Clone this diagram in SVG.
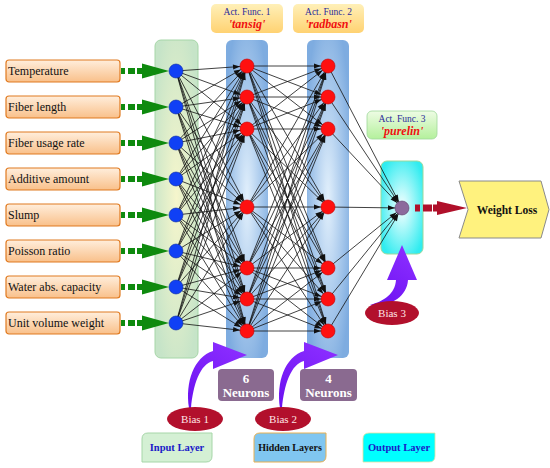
<svg xmlns="http://www.w3.org/2000/svg" width="550" height="468" viewBox="0 0 550 468" font-family="'Liberation Serif', 'Times New Roman', serif">
<style>
text{font-family:"Liberation Serif","Times New Roman",serif}
.inbox{fill:url(#gIn);stroke:#E07A20;stroke-width:1.2}
.intx{font-size:12px;fill:#111}
.net line{stroke:#111;stroke-width:0.8;marker-end:url(#ah)}
.nb{fill:#1040F5;stroke:#0A2AA0;stroke-width:0.6}
.nr{fill:#FF1010;stroke:#C00000;stroke-width:0.6}
.gar{fill:#0E8A0E}
.bias{fill:#B2102C}
.btx{font-size:11px;fill:#FFE6E6}
.parr{fill:url(#gP)}
.neur{fill:#8A6A90}
.ntx{font-size:13px;font-weight:bold;fill:#fff}
.af{fill:url(#gAF)}
.aft{font-size:9.5px;fill:#2A2A9A}
.afn{font-size:12px;font-weight:bold;font-style:italic;fill:#F01010}
</style>
<defs>
<linearGradient id="gIn" x1="0" y1="0" x2="0" y2="1"><stop offset="0" stop-color="#FFEEDC"/><stop offset="1" stop-color="#F9C08A"/></linearGradient>
<radialGradient id="gL0" cx="0.5" cy="0.5" r="0.6"><stop offset="0" stop-color="#F6F6CC"/><stop offset="1" stop-color="#C6E4C8"/></radialGradient>
<radialGradient id="gL1" cx="0.5" cy="0.5" r="0.6"><stop offset="0" stop-color="#E2F0FC"/><stop offset="1" stop-color="#7EACE0"/></radialGradient>
<radialGradient id="gL3" cx="0.5" cy="0.5" r="0.6"><stop offset="0" stop-color="#F8FFFF"/><stop offset="1" stop-color="#30ECF0"/></radialGradient>
<linearGradient id="gAF" x1="0" y1="0" x2="0" y2="1"><stop offset="0" stop-color="#FFF0B8"/><stop offset="1" stop-color="#FFD272"/></linearGradient>
<linearGradient id="gAF3" x1="0" y1="0" x2="0" y2="1"><stop offset="0" stop-color="#EEFCE4"/><stop offset="1" stop-color="#B4F09C"/></linearGradient>
<linearGradient id="gP" x1="0" y1="1" x2="0.6" y2="0"><stop offset="0" stop-color="#6A10F0"/><stop offset="1" stop-color="#8A2CFF"/></linearGradient>
<marker id="ah" markerUnits="userSpaceOnUse" markerWidth="8" markerHeight="6" refX="14" refY="2.5" orient="auto" overflow="visible"><path d="M0,0 L7,2.5 L0,5 z" fill="#111"/></marker>
</defs>

<!-- layer backgrounds -->
<g id="layer-input"><rect x="155" y="40" width="43" height="318" rx="6" fill="url(#gL0)" stroke="#A6D6A8" stroke-width="1"/></g>
<g id="layer-hidden1"><rect x="226" y="40" width="42" height="318" rx="6" fill="url(#gL1)"/></g>
<g id="layer-hidden2"><rect x="307" y="40" width="42" height="318" rx="6" fill="url(#gL1)"/></g>
<g id="layer-output"><rect x="381" y="161" width="42" height="93" rx="6" fill="url(#gL3)" stroke="#9ED89A" stroke-width="1"/></g>

<!-- activation function labels -->
<g id="act1"><rect x="211" y="4" width="72" height="29" rx="5" class="af"/><text x="247" y="15" text-anchor="middle" class="aft">Act. Func. 1</text><text x="247" y="28" text-anchor="middle" class="afn">'tansig'</text></g>
<g id="act2"><rect x="293" y="4" width="71" height="29" rx="5" class="af"/><text x="328.5" y="15" text-anchor="middle" class="aft">Act. Func. 2</text><text x="328.5" y="28" text-anchor="middle" class="afn">'radbasn'</text></g>
<g id="act3"><rect x="367" y="111" width="70" height="28" rx="5" fill="url(#gAF3)" stroke="#9ED89A" stroke-width="0.8"/><text x="402" y="122" text-anchor="middle" class="aft">Act. Func. 3</text><text x="402" y="135" text-anchor="middle" class="afn">'purelin'</text></g>

<!-- input boxes -->
<g id="in1"><rect x="6" y="60" width="114" height="22" rx="3" class="inbox"/><text x="8" y="75" class="intx">Temperature</text></g>
<g id="in2"><rect x="6" y="96" width="114" height="22" rx="3" class="inbox"/><text x="8" y="111" class="intx">Fiber length</text></g>
<g id="in3"><rect x="6" y="132" width="114" height="22" rx="3" class="inbox"/><text x="8" y="147" class="intx">Fiber usage rate</text></g>
<g id="in4"><rect x="6" y="168" width="114" height="22" rx="3" class="inbox"/><text x="8" y="183" class="intx">Additive amount</text></g>
<g id="in5"><rect x="6" y="204" width="114" height="22" rx="3" class="inbox"/><text x="8" y="219" class="intx">Slump</text></g>
<g id="in6"><rect x="6" y="240" width="114" height="22" rx="3" class="inbox"/><text x="8" y="255" class="intx">Poisson ratio</text></g>
<g id="in7"><rect x="6" y="276" width="114" height="22" rx="3" class="inbox"/><text x="8" y="291" class="intx">Water abs. capacity</text></g>
<g id="in8"><rect x="6" y="312" width="114" height="22" rx="3" class="inbox"/><text x="8" y="327" class="intx">Unit volume weight</text></g>

<!-- connectors -->
<g id="connectors">
<g class="net">
<line x1="176" y1="71" x2="247" y2="66"/><line x1="176" y1="71" x2="247" y2="97"/><line x1="176" y1="71" x2="247" y2="129"/><line x1="176" y1="71" x2="247" y2="207"/><line x1="176" y1="71" x2="247" y2="268"/><line x1="176" y1="71" x2="247" y2="299"/><line x1="176" y1="71" x2="247" y2="331"/>
<line x1="176" y1="107" x2="247" y2="66"/><line x1="176" y1="107" x2="247" y2="97"/><line x1="176" y1="107" x2="247" y2="129"/><line x1="176" y1="107" x2="247" y2="207"/><line x1="176" y1="107" x2="247" y2="268"/><line x1="176" y1="107" x2="247" y2="299"/><line x1="176" y1="107" x2="247" y2="331"/>
<line x1="176" y1="143" x2="247" y2="66"/><line x1="176" y1="143" x2="247" y2="97"/><line x1="176" y1="143" x2="247" y2="129"/><line x1="176" y1="143" x2="247" y2="207"/><line x1="176" y1="143" x2="247" y2="268"/><line x1="176" y1="143" x2="247" y2="299"/><line x1="176" y1="143" x2="247" y2="331"/>
<line x1="176" y1="179" x2="247" y2="66"/><line x1="176" y1="179" x2="247" y2="97"/><line x1="176" y1="179" x2="247" y2="129"/><line x1="176" y1="179" x2="247" y2="207"/><line x1="176" y1="179" x2="247" y2="268"/><line x1="176" y1="179" x2="247" y2="299"/><line x1="176" y1="179" x2="247" y2="331"/>
<line x1="176" y1="215" x2="247" y2="66"/><line x1="176" y1="215" x2="247" y2="97"/><line x1="176" y1="215" x2="247" y2="129"/><line x1="176" y1="215" x2="247" y2="207"/><line x1="176" y1="215" x2="247" y2="268"/><line x1="176" y1="215" x2="247" y2="299"/><line x1="176" y1="215" x2="247" y2="331"/>
<line x1="176" y1="251" x2="247" y2="66"/><line x1="176" y1="251" x2="247" y2="97"/><line x1="176" y1="251" x2="247" y2="129"/><line x1="176" y1="251" x2="247" y2="207"/><line x1="176" y1="251" x2="247" y2="268"/><line x1="176" y1="251" x2="247" y2="299"/><line x1="176" y1="251" x2="247" y2="331"/>
<line x1="176" y1="287" x2="247" y2="66"/><line x1="176" y1="287" x2="247" y2="97"/><line x1="176" y1="287" x2="247" y2="129"/><line x1="176" y1="287" x2="247" y2="207"/><line x1="176" y1="287" x2="247" y2="268"/><line x1="176" y1="287" x2="247" y2="299"/><line x1="176" y1="287" x2="247" y2="331"/>
<line x1="176" y1="323" x2="247" y2="66"/><line x1="176" y1="323" x2="247" y2="97"/><line x1="176" y1="323" x2="247" y2="129"/><line x1="176" y1="323" x2="247" y2="207"/><line x1="176" y1="323" x2="247" y2="268"/><line x1="176" y1="323" x2="247" y2="299"/><line x1="176" y1="323" x2="247" y2="331"/>

<line x1="247" y1="66" x2="328" y2="66"/><line x1="247" y1="66" x2="328" y2="97"/><line x1="247" y1="66" x2="328" y2="129"/><line x1="247" y1="66" x2="328" y2="207"/><line x1="247" y1="66" x2="328" y2="268"/><line x1="247" y1="66" x2="328" y2="299"/><line x1="247" y1="66" x2="328" y2="331"/>
<line x1="247" y1="97" x2="328" y2="66"/><line x1="247" y1="97" x2="328" y2="97"/><line x1="247" y1="97" x2="328" y2="129"/><line x1="247" y1="97" x2="328" y2="207"/><line x1="247" y1="97" x2="328" y2="268"/><line x1="247" y1="97" x2="328" y2="299"/><line x1="247" y1="97" x2="328" y2="331"/>
<line x1="247" y1="129" x2="328" y2="66"/><line x1="247" y1="129" x2="328" y2="97"/><line x1="247" y1="129" x2="328" y2="129"/><line x1="247" y1="129" x2="328" y2="207"/><line x1="247" y1="129" x2="328" y2="268"/><line x1="247" y1="129" x2="328" y2="299"/><line x1="247" y1="129" x2="328" y2="331"/>
<line x1="247" y1="207" x2="328" y2="66"/><line x1="247" y1="207" x2="328" y2="97"/><line x1="247" y1="207" x2="328" y2="129"/><line x1="247" y1="207" x2="328" y2="207"/><line x1="247" y1="207" x2="328" y2="268"/><line x1="247" y1="207" x2="328" y2="299"/><line x1="247" y1="207" x2="328" y2="331"/>
<line x1="247" y1="268" x2="328" y2="66"/><line x1="247" y1="268" x2="328" y2="97"/><line x1="247" y1="268" x2="328" y2="129"/><line x1="247" y1="268" x2="328" y2="207"/><line x1="247" y1="268" x2="328" y2="268"/><line x1="247" y1="268" x2="328" y2="299"/><line x1="247" y1="268" x2="328" y2="331"/>
<line x1="247" y1="299" x2="328" y2="66"/><line x1="247" y1="299" x2="328" y2="97"/><line x1="247" y1="299" x2="328" y2="129"/><line x1="247" y1="299" x2="328" y2="207"/><line x1="247" y1="299" x2="328" y2="268"/><line x1="247" y1="299" x2="328" y2="299"/><line x1="247" y1="299" x2="328" y2="331"/>
<line x1="247" y1="331" x2="328" y2="66"/><line x1="247" y1="331" x2="328" y2="97"/><line x1="247" y1="331" x2="328" y2="129"/><line x1="247" y1="331" x2="328" y2="207"/><line x1="247" y1="331" x2="328" y2="268"/><line x1="247" y1="331" x2="328" y2="299"/><line x1="247" y1="331" x2="328" y2="331"/>

<line x1="328" y1="66" x2="402" y2="208"/><line x1="328" y1="97" x2="402" y2="208"/><line x1="328" y1="129" x2="402" y2="208"/><line x1="328" y1="207" x2="402" y2="208"/><line x1="328" y1="268" x2="402" y2="208"/><line x1="328" y1="299" x2="402" y2="208"/><line x1="328" y1="331" x2="402" y2="208"/>
</g>
<!-- green input arrows -->
<g class="gar">
<rect x="121" y="68" width="4" height="6"/><rect x="128" y="68" width="7" height="6"/><polygon points="137,68 142,68 142,63.5 169,71 142,78.5 142,74 137,74"/>
<rect x="121" y="104" width="4" height="6"/><rect x="128" y="104" width="7" height="6"/><polygon points="137,104 142,104 142,99.5 169,107 142,114.5 142,110 137,110"/>
<rect x="121" y="140" width="4" height="6"/><rect x="128" y="140" width="7" height="6"/><polygon points="137,140 142,140 142,135.5 169,143 142,150.5 142,146 137,146"/>
<rect x="121" y="176" width="4" height="6"/><rect x="128" y="176" width="7" height="6"/><polygon points="137,176 142,176 142,171.5 169,179 142,186.5 142,182 137,182"/>
<rect x="121" y="212" width="4" height="6"/><rect x="128" y="212" width="7" height="6"/><polygon points="137,212 142,212 142,207.5 169,215 142,222.5 142,218 137,218"/>
<rect x="121" y="248" width="4" height="6"/><rect x="128" y="248" width="7" height="6"/><polygon points="137,248 142,248 142,243.5 169,251 142,258.5 142,254 137,254"/>
<rect x="121" y="284" width="4" height="6"/><rect x="128" y="284" width="7" height="6"/><polygon points="137,284 142,284 142,279.5 169,287 142,294.5 142,290 137,290"/>
<rect x="121" y="320" width="4" height="6"/><rect x="128" y="320" width="7" height="6"/><polygon points="137,320 142,320 142,315.5 169,323 142,330.5 142,326 137,326"/>
</g>
<!-- output red arrow -->
<g fill="#B0102A">
<rect x="415" y="204.5" width="5" height="7"/><rect x="423" y="204.5" width="9" height="7"/><polygon points="433,204.5 437,204.5 437,201 467,208 437,215 437,211.5 433,211.5"/>
</g>
<!-- bias arrows -->
<path class="parr" d="M189,408 C185,382 194,357 213,351 L213,342 L247,355 L213,369 L213,361 C200,364 193,385 191,408 Z"/>
<path class="parr" d="M280,408 C276,382 285,357 304,351 L304,342 L338,355 L304,369 L304,361 C291,364 284,385 282,408 Z"/>
<path class="parr" d="M370,305 C384,301 395,294 396,280 L387,280 L402,245 L417,280 L408,280 C407,296 392,306 373,306 Z"/>
</g>

<!-- neurons -->
<g id="input-nodes">
<circle cx="176" cy="71" r="7" class="nb"/><circle cx="176" cy="107" r="7" class="nb"/><circle cx="176" cy="143" r="7" class="nb"/><circle cx="176" cy="179" r="7" class="nb"/><circle cx="176" cy="215" r="7" class="nb"/><circle cx="176" cy="251" r="7" class="nb"/><circle cx="176" cy="287" r="7" class="nb"/><circle cx="176" cy="323" r="7" class="nb"/>
</g>
<g id="hidden1-nodes">
<circle cx="247" cy="66" r="7" class="nr"/><circle cx="247" cy="97" r="7" class="nr"/><circle cx="247" cy="129" r="7" class="nr"/><circle cx="247" cy="207" r="7" class="nr"/><circle cx="247" cy="268" r="7" class="nr"/><circle cx="247" cy="299" r="7" class="nr"/><circle cx="247" cy="331" r="7" class="nr"/>
</g>
<g id="hidden2-nodes">
<circle cx="328" cy="66" r="7" class="nr"/><circle cx="328" cy="97" r="7" class="nr"/><circle cx="328" cy="129" r="7" class="nr"/><circle cx="328" cy="207" r="7" class="nr"/><circle cx="328" cy="268" r="7" class="nr"/><circle cx="328" cy="299" r="7" class="nr"/><circle cx="328" cy="331" r="7" class="nr"/>
</g>
<g id="output-node"><circle cx="402" cy="208" r="7" fill="#8C6A9C" stroke="#5A3E6A" stroke-width="0.6"/></g>

<!-- output shape -->
<g id="weight-loss"><polygon points="459,181 541,181 549,209.5 541,238 459,238 468,209.5" fill="#FFF27E" stroke="#8A8A8A" stroke-width="1"/><text x="507" y="214" text-anchor="middle" font-size="11.5" font-weight="bold" fill="#111">Weight Loss</text></g>

<!-- neuron counts -->
<g id="n6"><rect x="218" y="369" width="56" height="32" rx="4" class="neur"/><text x="246" y="383" text-anchor="middle" class="ntx">6</text><text x="246" y="397" text-anchor="middle" class="ntx">Neurons</text></g>
<g id="n4"><rect x="300" y="369" width="57" height="32" rx="4" class="neur"/><text x="328.5" y="383" text-anchor="middle" class="ntx">4</text><text x="328.5" y="397" text-anchor="middle" class="ntx">Neurons</text></g>

<!-- biases -->
<g id="bias1"><ellipse cx="195" cy="419" rx="28" ry="12" class="bias"/><text x="195" y="423" text-anchor="middle" class="btx">Bias 1</text></g>
<g id="bias2"><ellipse cx="283" cy="419" rx="28" ry="12" class="bias"/><text x="283" y="423" text-anchor="middle" class="btx">Bias 2</text></g>
<g id="bias3"><ellipse cx="392" cy="313" rx="27" ry="12" class="bias"/><text x="392" y="317" text-anchor="middle" class="btx">Bias 3</text></g>

<!-- legend -->
<g id="lbl-input"><path d="M148,433 H212 V456 Q212,462 206,462 H142 V439 Q142,433 148,433 Z" fill="#D4F0D4" stroke="#A6D6A8" stroke-width="1"/><text x="177" y="451" text-anchor="middle" font-size="10.5" font-weight="bold" fill="#1A1AC8">Input Layer</text></g>
<g id="lbl-hidden"><path d="M260,433 H326 V456 Q326,462 320,462 H254 V439 Q254,433 260,433 Z" fill="#80C6F0" stroke="#E8B050" stroke-width="1"/><text x="290" y="451" text-anchor="middle" font-size="10" font-weight="bold" fill="#111">Hidden Layers</text></g>
<g id="lbl-output"><path d="M369,433 H435 V456 Q435,462 429,462 H363 V439 Q363,433 369,433 Z" fill="#00FFFF" stroke="#E0E0A0" stroke-width="0.8"/><text x="399" y="451" text-anchor="middle" font-size="10.5" font-weight="bold" fill="#1A1AC8">Output Layer</text></g>
</svg>
